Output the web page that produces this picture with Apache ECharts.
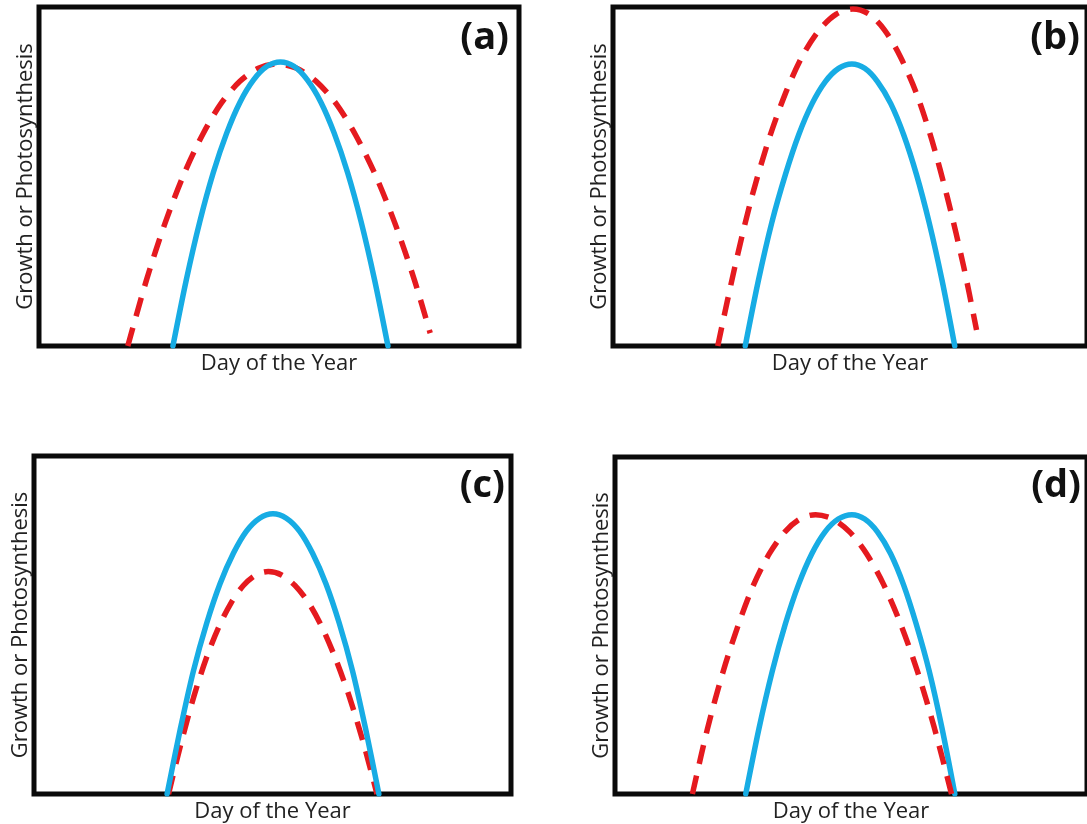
<!DOCTYPE html>
<html>
<head>
<meta charset="utf-8">
<title>Growth or Photosynthesis vs Day of the Year</title>
<script src="https://cdn.jsdelivr.net/npm/echarts@6/dist/echarts.min.js"></script>
<style>
  html, body { margin: 0; padding: 0; background: #fff; }
  #chart { width: 1087px; height: 824px; }
</style>
</head>
<body>
<div id="chart"></div>
<script>
// Axis titles and panel tags
const xTitle = 'Day of the Year';
const yTitle = 'Growth or Photosynthesis';
const panelLabels = ['(a)', '(b)', '(c)', '(d)'];

// Curves as [day (% of season window), rate (% of axis)] pairs.
// Solid blue = reference season, dashed red = altered season.
const blueA = [[27.9,0],[30.7,19.6],[33.5,36.7],[36.3,51.1],[39.1,62.8],[41.9,72.0],[44.7,78.5],[47.5,82.5],[50.3,83.8],[53.1,82.5],[55.9,78.5],[58.7,72.0],[61.5,62.8],[64.3,51.1],[67.1,36.7],[69.9,19.6],[72.7,0]];
const redA = [[18.5,0],[22.4,19.5],[26.3,36.4],[30.2,50.7],[34.1,62.4],[37.9,71.5],[41.8,78.0],[45.7,81.9],[49.6,83.2],[53.7,81.9],[57.8,78.0],[61.9,71.5],[65.9,62.4],[70.0,50.7],[74.1,36.4],[78.2,19.5],[81.5,3.8]];

const blueB = [[27.9,0],[30.7,19.5],[33.5,36.4],[36.4,50.7],[39.2,62.4],[42.0,71.5],[44.8,78.0],[47.6,81.9],[50.4,83.2],[53.1,81.9],[55.8,78.0],[58.6,71.5],[61.3,62.4],[64.0,50.7],[66.7,36.4],[69.4,19.5],[72.1,0]];
const redB = [[22.1,0],[25.7,23.3],[29.2,43.5],[32.8,60.6],[36.4,74.6],[39.9,85.4],[43.5,93.2],[47.1,97.9],[50.6,99.4],[54.0,97.9],[57.3,93.2],[60.6,85.4],[64.0,74.6],[67.3,60.6],[70.6,43.5],[74.0,23.3],[76.7,4.7]];

const blueC = [[27.9,0],[30.7,19.4],[33.4,36.3],[36.2,50.5],[39.0,62.2],[41.8,71.2],[44.5,77.7],[47.3,81.6],[50.1,82.9],[52.9,81.6],[55.7,77.7],[58.4,71.2],[61.2,62.2],[64.0,50.5],[66.8,36.3],[69.5,19.4],[72.3,0]];
const redC = [[28.2,0],[30.9,15.4],[33.5,28.8],[36.1,40.1],[38.7,49.3],[41.3,56.5],[43.9,61.7],[46.5,64.8],[49.1,65.8],[51.9,64.8],[54.7,61.7],[57.6,56.5],[60.4,49.3],[63.2,40.1],[66.1,28.8],[69.0,15.4],[71.9,0]];

const blueD = [[27.7,0],[30.5,19.4],[33.3,36.3],[36.1,50.5],[38.9,62.2],[41.7,71.3],[44.5,77.8],[47.3,81.6],[50.2,82.9],[52.9,81.6],[55.6,77.8],[58.4,71.3],[61.1,62.2],[63.8,50.5],[66.6,36.3],[69.3,19.4],[72.0,0]];
const redD = [[16.4,0],[19.6,19.4],[22.9,36.3],[26.2,50.5],[29.4,62.2],[32.7,71.3],[36.0,77.8],[39.2,81.6],[42.5,82.9],[46.1,81.6],[49.7,77.8],[53.3,71.3],[56.9,62.2],[60.5,50.5],[64.1,36.3],[67.7,19.4],[71.3,0]];

const blueSets = [blueA, blueB, blueC, blueD];
const redSets = [redA, redB, redC, redD];

// Panel boxes (the right-hand panels run past the page edge)
const boxes = [
  { left: 39,  top: 7,   width: 480, height: 339 },
  { left: 613, top: 7,   width: 480, height: 339 },
  { left: 34,  top: 456, width: 477, height: 339 },
  { left: 615, top: 457, width: 480, height: 340 }
];
const tagPos = [
  { right: 573, top: 14 },
  { right: 2,   top: 14 },
  { right: 577, top: 462 },
  { right: 1,   top: 462 }
];
// In panel (d) the dashed curve sits above the solid one
const redOnTop = [false, false, false, true];

const FONT = "'Open Sans', sans-serif";
const BLUE = '#17ACE4';
const RED = '#E51A1F';

const grid = [], xAxis = [], yAxis = [], series = [], title = [];
boxes.forEach((b, i) => {
  grid.push(Object.assign({
    show: true, borderColor: '#0a0a0a', borderWidth: 5,
    backgroundColor: '#fff', containLabel: false
  }, b));
  xAxis.push({
    type: 'value', gridIndex: i, min: 0, max: 100,
    name: xTitle, nameLocation: 'middle', nameGap: 7,
    nameTextStyle: { fontFamily: FONT, fontSize: 22, color: '#222' },
    axisLine: { show: false }, axisTick: { show: false },
    axisLabel: { show: false }, splitLine: { show: false }
  });
  yAxis.push({
    type: 'value', gridIndex: i, min: 0, max: 100,
    name: yTitle, nameLocation: 'middle', nameGap: 2,
    nameTextStyle: { fontFamily: FONT, fontSize: 22, color: '#222' },
    axisLine: { show: false }, axisTick: { show: false },
    axisLabel: { show: false }, splitLine: { show: false }
  });
  title.push(Object.assign({
    text: panelLabels[i],
    textStyle: { fontFamily: FONT, fontWeight: 'bold', fontSize: 38, color: '#111' }
  }, tagPos[i]));

  const blue = {
    type: 'line', xAxisIndex: i, yAxisIndex: i, data: blueSets[i],
    smooth: 0.3, showSymbol: false, silent: true,
    lineStyle: { color: BLUE, width: 5.5, cap: 'round' },
    z: redOnTop[i] ? 2 : 3
  };
  const red = {
    type: 'line', xAxisIndex: i, yAxisIndex: i, data: redSets[i],
    smooth: 0.3, showSymbol: false, silent: true,
    lineStyle: { color: RED, width: 5.5, type: [19, 12], cap: 'butt' },
    z: redOnTop[i] ? 3 : 2
  };
  series.push(red, blue);
});

const chart = echarts.init(document.getElementById('chart'), null, { renderer: 'canvas' });
chart.setOption({
  animation: false,
  backgroundColor: '#fff',
  title, grid, xAxis, yAxis, series
});
</script>
</body>
</html>
